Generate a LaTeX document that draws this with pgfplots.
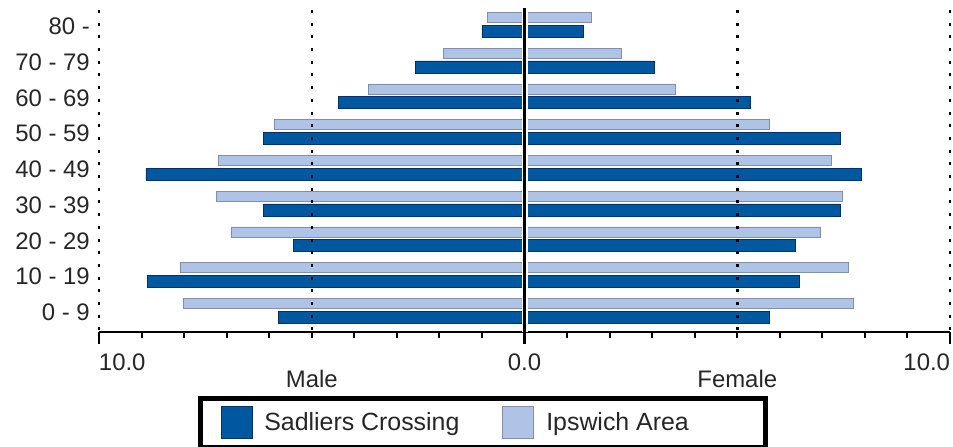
\documentclass[border=0pt]{standalone}
\usepackage{pgfplots}
\pgfplotsset{compat=1.18}
\usepackage{fontspec}
\setmainfont{Liberation Sans}
\definecolor{sadl}{RGB}{0,88,160}
\definecolor{sadledge}{RGB}{0,50,105}
\definecolor{ipsw}{RGB}{174,195,230}
\definecolor{ipswedge}{RGB}{128,143,172}
\pgfplotsset{
  mylegend/.style={legend image code/.code={\draw[##1, line width=0.8bp] (0bp,-16bp) rectangle (31bp,16bp);}},
}
\begin{document}
\begin{tikzpicture}
\useasboundingbox (-99bp,-114.7bp) rectangle (854bp,332.3bp);
\begin{axis}[
  at={(0,0)}, anchor=south west,
  scale only axis, width=851bp, height=322.3bp,
  xmin=-10, xmax=10, ymin=-0.6016, ymax=8.417,
  clip=false,
  axis x line*=bottom, axis y line*=left,
  x axis line style={-, line width=2bp, black},
  y axis line style={draw=none},
  xtick={-10,0,10},
  xticklabels={\rlap{10.0},0.0,\llap{10.0}},
  minor x tick num=9,
  tick align=outside,
  major tick length=12bp, minor tick length=6bp,
  xtick style={line width=2bp, black},
  ytick={0,...,8},
  yticklabels={0 - 9,10 - 19,20 - 29,30 - 39,40 - 49,50 - 59,60 - 69,70 - 79,80 -},
  ytick style={draw=none},
  tick label style={font=\fontsize{24}{28}\selectfont, inner sep=0pt, text=black!85},
  xticklabel style={yshift=-9bp},
  yticklabel style={xshift=3bp, yshift=-1.5bp},
  legend columns=2,
  legend style={
    at={(0.11575,-0.197)}, anchor=north west,
    draw=black, line width=5bp,
    inner xsep=20.5bp, inner ysep=8bp,
    font=\fontsize{25}{30}\selectfont,
    nodes={inner sep=0pt, text=black!85},
    /tikz/every odd column/.append style={column sep=12bp},
    /tikz/every even column/.append style={column sep=43bp},
  },
]
% Sadliers Crossing, male (negative)
\addplot[xbar, bar width=12bp, bar shift=-6.3bp, fill=sadl, draw=sadledge, line width=0.6bp, mylegend]
  coordinates {(-5.79,0) (-8.86,1) (-5.43,2) (-6.14,3) (-8.90,4) (-6.14,5) (-4.38,6) (-2.57,7) (-1.00,8)};
\addlegendentry{Sadliers Crossing}
% Sadliers Crossing, female
\addplot[xbar, bar width=12bp, bar shift=-6.3bp, fill=sadl, draw=sadledge, line width=0.6bp, forget plot]
  coordinates {(5.75,0) (6.46,1) (6.36,2) (7.41,3) (7.92,4) (7.41,5) (5.31,6) (3.04,7) (1.38,8)};
% Ipswich Area, male
\addplot[xbar, bar width=10bp, bar shift=7.5bp, fill=ipsw, draw=ipswedge, line width=0.6bp, mylegend]
  coordinates {(-8.01,0) (-8.10,1) (-6.90,2) (-7.24,3) (-7.20,4) (-5.89,5) (-3.67,6) (-1.91,7) (-0.87,8)};
\addlegendentry{\makebox[199bp][l]{Ipswich Area}}
% Ipswich Area, female
\addplot[xbar, bar width=10bp, bar shift=7.5bp, fill=ipsw, draw=ipswedge, line width=0.6bp, forget plot]
  coordinates {(7.72,0) (7.61,1) (6.96,2) (7.46,3) (7.20,4) (5.75,5) (3.55,6) (2.28,7) (1.58,8)};
% gap and centre line
\fill[white] (axis cs:-0.07,-0.6016) rectangle (axis cs:0.09,8.417);
\draw[black, line width=2.5bp] (axis cs:0,8.47) -- ([yshift=-12bp]axis cs:0,-0.6016);
% dotted grid lines
\draw[black, line width=2.5bp, dash pattern=on 3bp off 9.7bp] (axis cs:-10,8.417) -- (axis cs:-10,-0.6016);
\draw[black, line width=2.5bp, dash pattern=on 3bp off 9.7bp] (axis cs:-5,8.417) -- (axis cs:-5,-0.6016);
\draw[black, line width=2.5bp, dash pattern=on 3bp off 9.7bp] (axis cs:5,8.417) -- (axis cs:5,-0.6016);
\draw[black, line width=2.5bp, dash pattern=on 3bp off 9.7bp] (axis cs:10,8.417) -- (axis cs:10,-0.6016);
% side labels
\node[anchor=north, inner sep=0pt, font=\fontsize{24}{28}\selectfont, text=black!85] at ([yshift=-37.5bp]rel axis cs:0.25,0) {Male};
\node[anchor=north, inner sep=0pt, font=\fontsize{24}{28}\selectfont, text=black!85] at ([yshift=-37.5bp]rel axis cs:0.75,0) {Female};
\end{axis}
\end{tikzpicture}
\end{document}
